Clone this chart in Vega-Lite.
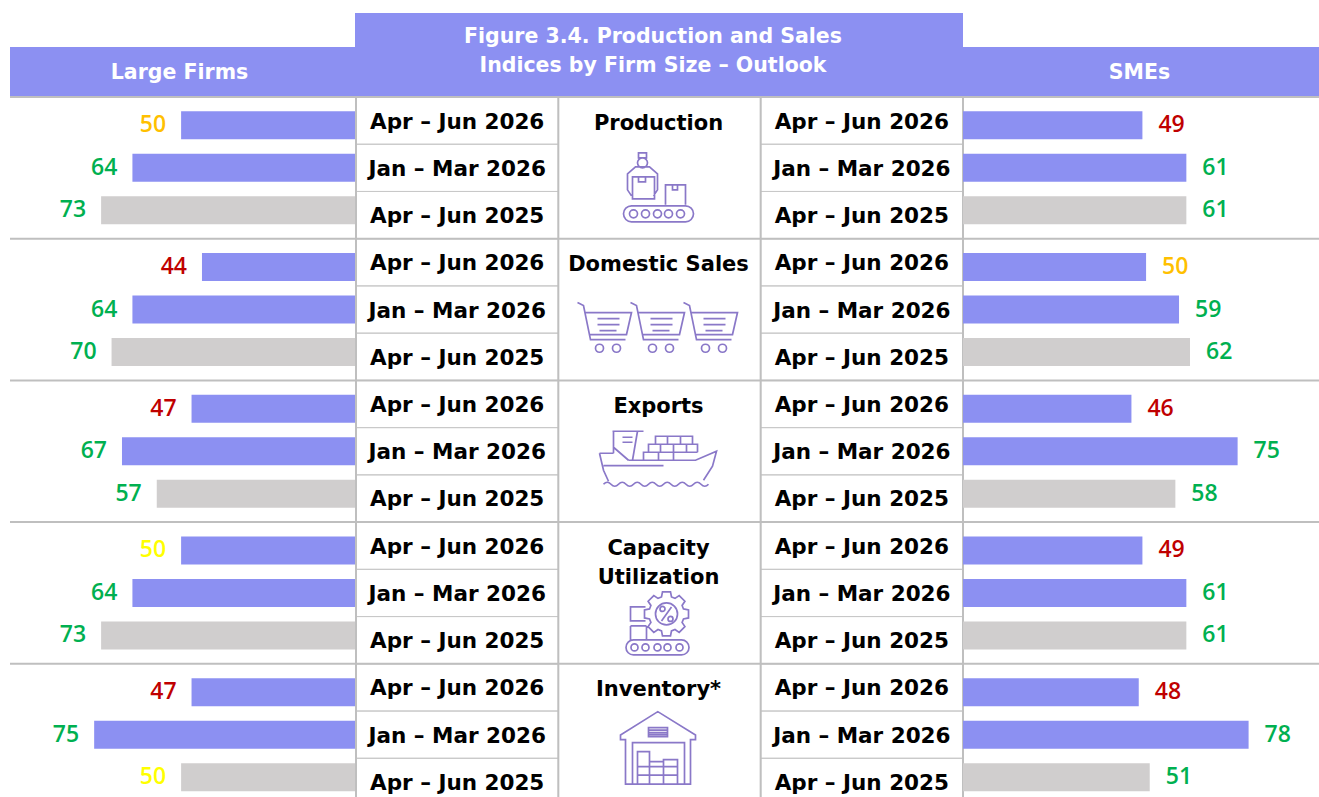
{
"$schema":"https://vega.github.io/schema/vega-lite/v6.json",
"background":"white",
"padding":{"left":9,"top":0,"right":0,"bottom":0},
"autosize":{"type":"pad"},
"config":{"view":{"stroke":null}},
"datasets":{
"bars":[
{"firm":"Large Firms","group":"Production","period":"Apr – Jun 2026","value":50,"status":"At 50 A"},
{"firm":"Large Firms","group":"Production","period":"Jan – Mar 2026","value":64,"status":"Above 50"},
{"firm":"Large Firms","group":"Production","period":"Apr – Jun 2025","value":73,"status":"Above 50"},
{"firm":"Large Firms","group":"Domestic Sales","period":"Apr – Jun 2026","value":44,"status":"Below 50"},
{"firm":"Large Firms","group":"Domestic Sales","period":"Jan – Mar 2026","value":64,"status":"Above 50"},
{"firm":"Large Firms","group":"Domestic Sales","period":"Apr – Jun 2025","value":70,"status":"Above 50"},
{"firm":"Large Firms","group":"Exports","period":"Apr – Jun 2026","value":47,"status":"Below 50"},
{"firm":"Large Firms","group":"Exports","period":"Jan – Mar 2026","value":67,"status":"Above 50"},
{"firm":"Large Firms","group":"Exports","period":"Apr – Jun 2025","value":57,"status":"Above 50"},
{"firm":"Large Firms","group":"Capacity Utilization","period":"Apr – Jun 2026","value":50,"status":"At 50 B"},
{"firm":"Large Firms","group":"Capacity Utilization","period":"Jan – Mar 2026","value":64,"status":"Above 50"},
{"firm":"Large Firms","group":"Capacity Utilization","period":"Apr – Jun 2025","value":73,"status":"Above 50"},
{"firm":"Large Firms","group":"Inventory*","period":"Apr – Jun 2026","value":47,"status":"Below 50"},
{"firm":"Large Firms","group":"Inventory*","period":"Jan – Mar 2026","value":75,"status":"Above 50"},
{"firm":"Large Firms","group":"Inventory*","period":"Apr – Jun 2025","value":50,"status":"At 50 B"},
{"firm":"SMEs","group":"Production","period":"Apr – Jun 2026","value":49,"status":"Below 50"},
{"firm":"SMEs","group":"Production","period":"Jan – Mar 2026","value":61,"status":"Above 50"},
{"firm":"SMEs","group":"Production","period":"Apr – Jun 2025","value":61,"status":"Above 50"},
{"firm":"SMEs","group":"Domestic Sales","period":"Apr – Jun 2026","value":50,"status":"At 50 A"},
{"firm":"SMEs","group":"Domestic Sales","period":"Jan – Mar 2026","value":59,"status":"Above 50"},
{"firm":"SMEs","group":"Domestic Sales","period":"Apr – Jun 2025","value":62,"status":"Above 50"},
{"firm":"SMEs","group":"Exports","period":"Apr – Jun 2026","value":46,"status":"Below 50"},
{"firm":"SMEs","group":"Exports","period":"Jan – Mar 2026","value":75,"status":"Above 50"},
{"firm":"SMEs","group":"Exports","period":"Apr – Jun 2025","value":58,"status":"Above 50"},
{"firm":"SMEs","group":"Capacity Utilization","period":"Apr – Jun 2026","value":49,"status":"Below 50"},
{"firm":"SMEs","group":"Capacity Utilization","period":"Jan – Mar 2026","value":61,"status":"Above 50"},
{"firm":"SMEs","group":"Capacity Utilization","period":"Apr – Jun 2025","value":61,"status":"Above 50"},
{"firm":"SMEs","group":"Inventory*","period":"Apr – Jun 2026","value":48,"status":"Below 50"},
{"firm":"SMEs","group":"Inventory*","period":"Jan – Mar 2026","value":78,"status":"Above 50"},
{"firm":"SMEs","group":"Inventory*","period":"Apr – Jun 2025","value":51,"status":"Above 50"}
],
"groups":[{"group":"Production"},{"group":"Domestic Sales"},{"group":"Exports"},{"group":"Capacity Utilization"},{"group":"Inventory*"}],
"cells":[
{"group":"Production","col":"left","period":"Apr – Jun 2026"},{"group":"Production","col":"left","period":"Jan – Mar 2026"},{"group":"Production","col":"left","period":"Apr – Jun 2025"},
{"group":"Production","col":"right","period":"Apr – Jun 2026"},{"group":"Production","col":"right","period":"Jan – Mar 2026"},{"group":"Production","col":"right","period":"Apr – Jun 2025"},
{"group":"Domestic Sales","col":"left","period":"Apr – Jun 2026"},{"group":"Domestic Sales","col":"left","period":"Jan – Mar 2026"},{"group":"Domestic Sales","col":"left","period":"Apr – Jun 2025"},
{"group":"Domestic Sales","col":"right","period":"Apr – Jun 2026"},{"group":"Domestic Sales","col":"right","period":"Jan – Mar 2026"},{"group":"Domestic Sales","col":"right","period":"Apr – Jun 2025"},
{"group":"Exports","col":"left","period":"Apr – Jun 2026"},{"group":"Exports","col":"left","period":"Jan – Mar 2026"},{"group":"Exports","col":"left","period":"Apr – Jun 2025"},
{"group":"Exports","col":"right","period":"Apr – Jun 2026"},{"group":"Exports","col":"right","period":"Jan – Mar 2026"},{"group":"Exports","col":"right","period":"Apr – Jun 2025"},
{"group":"Capacity Utilization","col":"left","period":"Apr – Jun 2026"},{"group":"Capacity Utilization","col":"left","period":"Jan – Mar 2026"},{"group":"Capacity Utilization","col":"left","period":"Apr – Jun 2025"},
{"group":"Capacity Utilization","col":"right","period":"Apr – Jun 2026"},{"group":"Capacity Utilization","col":"right","period":"Jan – Mar 2026"},{"group":"Capacity Utilization","col":"right","period":"Apr – Jun 2025"},
{"group":"Inventory*","col":"left","period":"Apr – Jun 2026"},{"group":"Inventory*","col":"left","period":"Jan – Mar 2026"},{"group":"Inventory*","col":"left","period":"Apr – Jun 2025"},
{"group":"Inventory*","col":"right","period":"Apr – Jun 2026"},{"group":"Inventory*","col":"right","period":"Jan – Mar 2026"},{"group":"Inventory*","col":"right","period":"Apr – Jun 2025"}
],
"metrics":[
{"group":"Production","col":"metric","period":"Apr – Jun 2026","label":"Production"},
{"group":"Domestic Sales","col":"metric","period":"Apr – Jun 2026","label":"Domestic Sales"},
{"group":"Exports","col":"metric","period":"Apr – Jun 2026","label":"Exports"},
{"group":"Capacity Utilization","col":"metric","period":"Apr – Jun 2026","label":"Capacity\nUtilization"},
{"group":"Inventory*","col":"metric","period":"Apr – Jun 2026","label":"Inventory*"}
],
"blank":[{"gap":"top"}]
},
"bounds":"flush",
"spacing":0,
"columns":3,
"resolve":{"scale":{"yOffset":"independent","color":"independent"}},
"concat":[
 {"width":345,"height":13,"data":{"name":"blank"},"mark":{"type":"rect","opacity":0},"encoding":{}},
 {"width":608,"height":13,"data":{"name":"blank"},"mark":{"type":"rect","opacity":0},"encoding":{}},
 {"width":357,"height":13,"data":{"name":"blank"},"mark":{"type":"rect","opacity":0},"encoding":{}},
 {"width":345,"height":34,"data":{"name":"blank"},"mark":{"type":"rect","opacity":0},"encoding":{}},
 {"width":608,"height":34,"view":{"fill":"#8c90f2","stroke":null},"data":{"name":"blank"},"mark":{"type":"rect","opacity":0},"encoding":{}},
 {"width":357,"height":34,"data":{"name":"blank"},"mark":{"type":"rect","opacity":0},"encoding":{}},
 {"width":345,"height":50,"view":{"fill":"#8c90f2","stroke":null},"data":{"values":[{"label":"Large Firms"}]},
  "mark":{"type":"text","font":"DejaVu Sans","fontWeight":"bold","fontSize":20.5,"color":"white","dx":-3,"dy":1},"encoding":{"text":{"field":"label"}}},
 {"width":608,"height":50,"view":{"fill":"#8c90f2","stroke":null},"data":{"values":[{"label":"Figure 3.4. Production and Sales\nIndices by Firm Size – Outlook"}]},
  "mark":{"type":"text","font":"DejaVu Sans","fontWeight":"bold","fontSize":20.5,"color":"white","lineBreak":"\n","lineHeight":29,"dx":-6,"dy":-35},"encoding":{"text":{"field":"label"}}},
 {"width":357,"height":50,"view":{"fill":"#8c90f2","stroke":null},"data":{"values":[{"label":"SMEs"}]},
  "mark":{"type":"text","font":"DejaVu Sans","fontWeight":"bold","fontSize":20.5,"color":"white","dx":-2,"dy":1},"encoding":{"text":{"field":"label"}}},
 {"width":345,"height":700,
  "data":{"name":"bars"},
  "transform":[{"filter":"datum.firm === 'Large Firms'"}],
  "encoding":{
   "y":{"field":"group","type":"nominal","sort":null,"axis":null,"scale":{"domain":["Production","Domestic Sales","Exports","Capacity Utilization","Inventory*"],"range":[0,708.5],"paddingInner":0,"paddingOuter":0}}
  },
  "layer":[
   {"data":{"name":"groups"},"mark":{"type":"rule","stroke":"#bfbfbf","strokeWidth":2,"clip":true},"encoding":{"y":{"field":"group","type":"nominal","sort":null,"bandPosition":1}}},
   {"data":{"values":[{"group":"Production"}]},"mark":{"type":"rule","stroke":"#bfbfbf","strokeWidth":2},"encoding":{"y":{"field":"group","type":"nominal","sort":null,"bandPosition":0}}},
   {"mark":{"type":"bar","clip":true},
    "encoding":{
     "yOffset":{"field":"period","type":"nominal","sort":null,"scale":{"domain":["Apr – Jun 2026","Jan – Mar 2026","Apr – Jun 2025"],"paddingInner":0.341,"paddingOuter":0.338}},
     "x":{"field":"value","type":"quantitative","axis":null,"scale":{"domain":[0,99.2],"reverse":true,"nice":false}},
     "color":{"field":"period","type":"nominal","legend":null,"scale":{"domain":["Apr – Jun 2026","Jan – Mar 2026","Apr – Jun 2025"],"range":["#8c90f2","#8c90f2","#d0cece"]}}
    }},
   {"mark":{"type":"text","align":"right","dx":-15,"font":"Open Sans","fontWeight":600,"fontSize":23},
    "encoding":{
     "yOffset":{"field":"period","type":"nominal","sort":null,"scale":{"domain":["Apr – Jun 2026","Jan – Mar 2026","Apr – Jun 2025"],"paddingInner":0.341,"paddingOuter":0.338}},
     "x":{"field":"value","type":"quantitative"},
     "text":{"field":"value","type":"quantitative"},
     "color":{"field":"status","type":"nominal","legend":null,"scale":{"domain":["Above 50","Below 50","At 50 A","At 50 B"],"range":["#00b050","#c00000","#ffc000","#ffff00"]}}
    }}
  ],
  "resolve":{"scale":{"color":"independent"}}
 },
 {"width":608,"height":700,
  "encoding":{
   "y":{"field":"group","type":"nominal","sort":null,"axis":null,"scale":{"domain":["Production","Domestic Sales","Exports","Capacity Utilization","Inventory*"],"range":[0,708.5],"paddingInner":0,"paddingOuter":0}},
   "x":{"field":"col","type":"nominal","axis":null,"scale":{"domain":["left","metric","right"],"range":[1,608],"paddingInner":0,"paddingOuter":0}}
  },
  "layer":[
   {"data":{"name":"cells"},"mark":{"type":"rect","fill":null,"stroke":"#c8c8c8","strokeWidth":1,"clip":true},
    "encoding":{"yOffset":{"field":"period","type":"nominal","sort":null,"scale":{"domain":["Apr – Jun 2026","Jan – Mar 2026","Apr – Jun 2025"],"paddingInner":0,"paddingOuter":0}}}},
   {"data":{"name":"groups"},"mark":{"type":"rule","stroke":"#bfbfbf","strokeWidth":2,"clip":true},"encoding":{"x":null,"y":{"field":"group","type":"nominal","sort":null,"bandPosition":1}}},
   {"data":{"values":[{"group":"Production"}]},"mark":{"type":"rule","stroke":"#bfbfbf","strokeWidth":2},"encoding":{"x":null,"y":{"field":"group","type":"nominal","sort":null,"bandPosition":0}}},
   {"data":{"values":[{"col":"left"},{"col":"metric"},{"col":"right"}]},"mark":{"type":"rule","stroke":"#bfbfbf","strokeWidth":2},"encoding":{"y":null,"x":{"field":"col","type":"nominal","bandPosition":0}}},
   {"data":{"values":[{"col":"right"}]},"mark":{"type":"rule","stroke":"#bfbfbf","strokeWidth":2},"encoding":{"y":null,"x":{"field":"col","type":"nominal","bandPosition":1}}},
   {"data":{"name":"cells"},"mark":{"type":"text","font":"DejaVu Sans","fontWeight":"bold","fontSize":21.5,"color":"black","dy":2},
    "encoding":{"text":{"field":"period"},"yOffset":{"field":"period","type":"nominal","sort":null,"scale":{"domain":["Apr – Jun 2026","Jan – Mar 2026","Apr – Jun 2025"],"paddingInner":0,"paddingOuter":0}}}},
   {"data":{"name":"metrics"},"mark":{"type":"text","font":"DejaVu Sans","fontWeight":"bold","fontSize":21,"color":"black","baseline":"alphabetic","lineBreak":"\n","lineHeight":29,"dy":9,"dx":-1},
    "encoding":{"text":{"field":"label"},"yOffset":{"field":"period","type":"nominal","sort":null,"scale":{"domain":["Apr – Jun 2026","Jan – Mar 2026","Apr – Jun 2025"],"paddingInner":0,"paddingOuter":0}}}},
   {"data":{"values":[{"group":"Production","col":"metric"}]},"mark":{"type":"point","size":4,"filled":false,"opacity":1,"stroke":"#8a78c8","strokeWidth":1.7,
    "shape":"M-28 38H26A8 8 0 0 1 26 54H-28A8 8 0 0 1 -28 38ZM-30 46a4 4 0 1 0 8 0a4 4 0 1 0 -8 0M-18 46a4 4 0 1 0 8 0a4 4 0 1 0 -8 0M-6 46a4 4 0 1 0 8 0a4 4 0 1 0 -8 0M5 46a4 4 0 1 0 8 0a4 4 0 1 0 -8 0M17 46a4 4 0 1 0 8 0a4 4 0 1 0 -8 0M6 37V17H26V37M13 17V22H18V17M-27 31V9H-5V31ZM-21 9V14H-14V9M-28 28L-32 22V6L-24 -1H-10L-2 6V22L-6 28M-22 -5a5 5 0 1 0 10 0a5 5 0 1 0 -10 0M-21 -10V-15H-13V-10Z"}},
   {"data":{"values":[{"group":"Domestic Sales","col":"metric"}]},"mark":{"type":"point","size":4,"filled":false,"opacity":1,"stroke":"#8a78c8","strokeWidth":1.7,
    "shape":"M-82 -7L-76 -4L-69 30H-34M-74 3H-28L-33 25H-70M-62 9H-40M-62 15H-40M-60 21H-43M-64 38.7a4 4 0 1 0 8 0a4 4 0 1 0 -8 0M-47 38.7a4 4 0 1 0 8 0a4 4 0 1 0 -8 0M-29 -7L-23 -4L-16 30H19M-21 3H25L20 25H-17M-9 9H13M-9 15H13M-7 21H10M-11 38.7a4 4 0 1 0 8 0a4 4 0 1 0 -8 0M6 38.7a4 4 0 1 0 8 0a4 4 0 1 0 -8 0M24 -7L30 -4L37 30H72M32 3H78L73 25H36M44 9H66M44 15H66M46 21H63M42 38.7a4 4 0 1 0 8 0a4 4 0 1 0 -8 0M59 38.7a4 4 0 1 0 8 0a4 4 0 1 0 -8 0"}},
   {"data":{"values":[{"group":"Exports","col":"metric"}]},"mark":{"type":"point","size":4,"filled":false,"opacity":1,"stroke":"#8a78c8","strokeWidth":1.7,
    "shape":"M-47 -20H-16M-46 -20V2M-22 -20L-27 9M-46 -4L-31 9M-37 -14H-27M-37 -9H-27M-60 2H-46M-60 2L-56 19L-51 30M-31 9H36L57 0L53 15L44 29M-56 14.4H4M-56 33q3.75 -4 7.5 0q3.75 4 7.5 0q3.75 -4 7.5 0q3.75 4 7.5 0q3.75 -4 7.5 0q3.75 4 7.5 0q3.75 -4 7.5 0q3.75 4 7.5 0q3.75 -4 7.5 0q3.75 4 7.5 0q3.75 -4 7.5 0q3.75 4 7.5 0q3.75 -4 7.5 0q3.75 4 7.5 0M-4 -7V-15H33V-7M-11 1V-7H38V1M-16 9V1H38M14 1V9M8 -15V-7M21 -15V-7M1 -7V1M14 -7V1M27 -7V1M-1 1V9"}},
   {"data":{"values":[{"group":"Capacity Utilization","col":"metric"}]},"mark":{"type":"point","size":4,"filled":false,"opacity":1,"stroke":"#8a78c8","strokeWidth":1.7,
    "shape":"M-26 47H22A7.5 7.5 0 0 1 22 62H-26A7.5 7.5 0 0 1 -26 47ZM-28.5 54.5a3.5 3.5 0 1 0 7 0a3.5 3.5 0 1 0 -7 0M-17.5 54.5a3.5 3.5 0 1 0 7 0a3.5 3.5 0 1 0 -7 0M-5.5 54.5a3.5 3.5 0 1 0 7 0a3.5 3.5 0 1 0 -7 0M4.5 54.5a3.5 3.5 0 1 0 7 0a3.5 3.5 0 1 0 -7 0M16.5 54.5a3.5 3.5 0 1 0 7 0a3.5 3.5 0 1 0 -7 0M-14 14H-29V28H-14M-29 33V47M-13 33V47M-29 33H-13M24 16L29 17L29 25L24 26L22.6 29.5L25.4 33.7L19.7 39.4L15.5 36.6L12 38L11 43L3 43L2 38L-1.5 36.6L-5.7 39.4L-11.4 33.7L-8.6 29.5L-10 26L-15 25L-15 17L-10 16L-8.6 12.5L-11.4 8.3L-5.7 2.6L-1.5 5.4L2 4L3 -1L11 -1L12 4L15.5 5.4L19.7 2.6L25.4 8.3L22.6 12.5ZM-4 21a11 11 0 1 0 22 0a11 11 0 1 0 -22 0M12 14L2 28M0.5 16a2.5 2.5 0 1 0 5 0a2.5 2.5 0 1 0 -5 0M8.5 26a2.5 2.5 0 1 0 5 0a2.5 2.5 0 1 0 -5 0"}},
   {"data":{"values":[{"group":"Inventory*","col":"metric"}]},"mark":{"type":"point","size":4,"filled":false,"opacity":1,"stroke":"#8a78c8","strokeWidth":1.7,
    "shape":"M-39 0.4L-1.7 -23L36 0.4V5H31V49.4H-34V5H-39ZM-27 49V8H25V49M-22 49V17H-10V27H4V25H18V49M-22 32H18M-22 40.4H18M-10 27V49M4 27V49M-11 -7H8V2H-11ZM-11 -4.5H8M-11 -2H8M-11 0H8"}}
  ]
 },
 {"width":357,"height":700,
  "data":{"name":"bars"},
  "transform":[{"filter":"datum.firm === 'SMEs'"}],
  "encoding":{
   "y":{"field":"group","type":"nominal","sort":null,"axis":null,"scale":{"domain":["Production","Domestic Sales","Exports","Capacity Utilization","Inventory*"],"range":[0,708.5],"paddingInner":0,"paddingOuter":0}}
  },
  "layer":[
   {"data":{"name":"groups"},"mark":{"type":"rule","stroke":"#bfbfbf","strokeWidth":2,"clip":true},"encoding":{"y":{"field":"group","type":"nominal","sort":null,"bandPosition":1}}},
   {"data":{"values":[{"group":"Production"}]},"mark":{"type":"rule","stroke":"#bfbfbf","strokeWidth":2},"encoding":{"y":{"field":"group","type":"nominal","sort":null,"bandPosition":0}}},
   {"mark":{"type":"bar","clip":true},
    "encoding":{
     "yOffset":{"field":"period","type":"nominal","sort":null,"scale":{"domain":["Apr – Jun 2026","Jan – Mar 2026","Apr – Jun 2025"],"paddingInner":0.341,"paddingOuter":0.338}},
     "x":{"field":"value","type":"quantitative","axis":null,"scale":{"domain":[0,97.5],"nice":false}},
     "color":{"field":"period","type":"nominal","legend":null,"scale":{"domain":["Apr – Jun 2026","Jan – Mar 2026","Apr – Jun 2025"],"range":["#8c90f2","#8c90f2","#d0cece"]}}
    }},
   {"mark":{"type":"text","align":"left","dx":16,"font":"Open Sans","fontWeight":600,"fontSize":23},
    "encoding":{
     "yOffset":{"field":"period","type":"nominal","sort":null,"scale":{"domain":["Apr – Jun 2026","Jan – Mar 2026","Apr – Jun 2025"],"paddingInner":0.341,"paddingOuter":0.338}},
     "x":{"field":"value","type":"quantitative"},
     "text":{"field":"value","type":"quantitative"},
     "color":{"field":"status","type":"nominal","legend":null,"scale":{"domain":["Above 50","Below 50","At 50 A","At 50 B"],"range":["#00b050","#c00000","#ffc000","#ffff00"]}}
    }}
  ],
  "resolve":{"scale":{"color":"independent"}}
 }
]
}
